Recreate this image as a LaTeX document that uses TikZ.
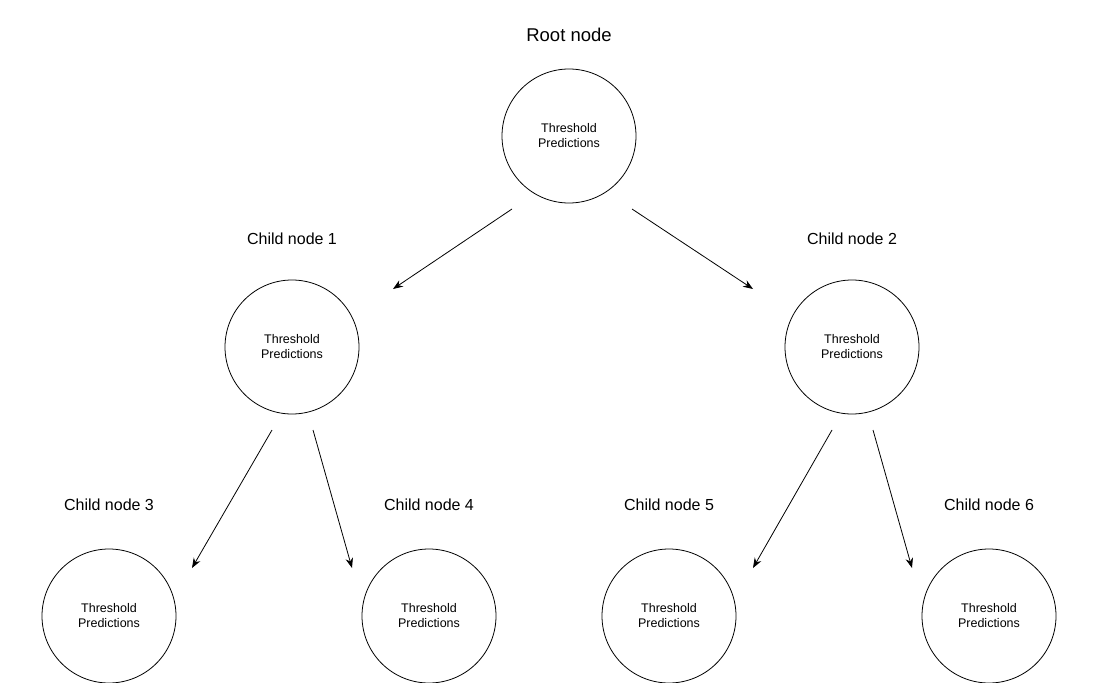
\documentclass[tikz,border=0pt]{standalone}
\usepackage{fontspec}
\setmainfont{Liberation Sans}
\usetikzlibrary{arrows.meta}

\begin{document}
\begin{tikzpicture}[x=1pt,y=-1pt,->,>={Stealth[length=10pt,width=7.5pt]},line width=0.8pt,
  tree node/.style={circle,draw,fill=white,minimum size=134pt,inner sep=0pt,align=center,
    font=\fontsize{12.5}{15}\selectfont},
  title node/.style={font=\fontsize{16}{19}\selectfont},
  root title/.style={font=\fontsize{18.5}{22}\selectfont}]

  \useasboundingbox (0,0) rectangle (1115,682);

  \node[tree node] (root) at (569,136) {Threshold\\Predictions};
  \node[tree node] (c1) at (292,347) {Threshold\\Predictions};
  \node[tree node] (c2) at (852,347) {Threshold\\Predictions};
  \node[tree node] (c3) at (109,616) {Threshold\\Predictions};
  \node[tree node] (c4) at (429,616) {Threshold\\Predictions};
  \node[tree node] (c5) at (669,616) {Threshold\\Predictions};
  \node[tree node] (c6) at (989,616) {Threshold\\Predictions};

  \node[root title] (lroot) at (569,35) {Root node};
  \node[title node] (l1) at (292,239) {Child node 1};
  \node[title node] (l2) at (852,239) {Child node 2};
  \node[title node] (l3) at (109,505) {Child node 3};
  \node[title node] (l4) at (429,505) {Child node 4};
  \node[title node] (l5) at (669,505) {Child node 5};
  \node[title node] (l6) at (989,505) {Child node 6};

  \draw ([shift={(-57,73)}]root.center) -- ([shift={(101,-58)}]c1.center);
  \draw ([shift={(63,73)}]root.center) -- ([shift={(-99,-58)}]c2.center);
  \draw ([shift={(-20,83)}]c1.center) -- ([shift={(83,-48)}]c3.center);
  \draw ([shift={(21,83)}]c1.center) -- ([shift={(-77,-48)}]c4.center);
  \draw ([shift={(-20,83)}]c2.center) -- ([shift={(84,-48)}]c5.center);
  \draw ([shift={(21,83)}]c2.center) -- ([shift={(-77,-48)}]c6.center);

\end{tikzpicture}
\end{document}
